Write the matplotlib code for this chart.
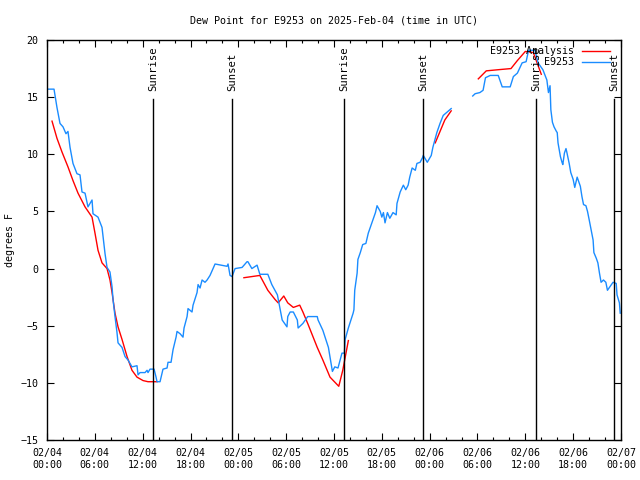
import numpy as np
import matplotlib
matplotlib.use("Agg")
import matplotlib.pyplot as plt
from matplotlib.lines import Line2D

# hours since 2025-02-04 00:00 UTC
obs_hours = [0.0, 0.88, 1.25, 1.63, 2.01, 2.38, 2.63, 2.89, 3.26, 3.76, 4.14, 4.39, 4.77, 5.14,
             5.65, 5.77, 6.40, 6.90, 7.28, 7.53, 7.90, 8.16, 8.28, 8.53, 8.78, 8.91, 9.41, 9.79,
             10.16, 10.66, 11.29, 11.42, 11.67, 12.30, 12.55, 12.67, 12.92, 13.43, 13.68, 13.80,
             14.18, 14.55, 15.06, 15.18, 15.56, 15.81, 16.19, 16.31, 16.69, 17.06, 17.19, 17.57,
             17.69, 18.19, 18.32, 18.82, 18.95, 19.20, 19.45, 19.82, 20.08, 20.45, 20.83, 21.08,
             22.58, 22.71, 22.96, 23.21, 23.59, 24.47, 25.09, 25.2, 25.7, 26.35, 26.7, 27.7,
             28.2, 28.9, 29.5, 30.1, 30.2, 30.5, 30.9, 31.4, 31.5, 32.1, 32.7, 33.9, 34.0, 34.6,
             35.3, 35.8, 36.1, 36.5, 37.0, 37.3, 37.4, 37.8, 38.4, 38.5, 38.6, 38.9, 39.0, 39.3,
             39.6, 40.0, 40.3, 40.8, 41.2, 41.4, 41.8, 42.0, 42.2, 42.4, 42.7, 43.0, 43.4, 43.8,
             43.9, 44.3, 44.7, 45.0, 45.3, 45.5, 45.8, 46.2, 46.4, 46.8, 47.1, 47.2, 47.7, 48.2,
             48.4, 48.9, 49.3, 49.7, 50.2, 50.7, 52.0,
             53.4, 53.7, 54.3, 54.7, 55.0, 55.6, 56.6, 57.1, 58.1, 58.5, 59.0, 59.6, 60.1, 60.4,
             61.2, 61.6, 62.2, 62.7, 62.9, 63.1, 63.2, 63.4, 63.6, 63.9, 64.0, 64.1, 64.4, 64.6,
             64.7, 64.9, 65.1, 65.2, 65.5, 65.7, 66.0, 66.2, 66.5, 66.6, 66.9, 67.1, 67.3, 67.6,
             67.8, 68.0, 68.3, 68.5, 68.6, 68.9, 69.1, 69.3, 69.5, 69.8, 70.1, 70.3, 70.6, 71.0,
             71.4, 71.5, 71.8, 71.9]
obs_dewpt = [15.7, 15.7, 14.1, 12.7, 12.4, 11.8, 12.0, 10.6, 9.2, 8.3, 8.2, 6.7, 6.6, 5.4,
             6.0, 4.8, 4.5, 3.6, 1.3, 0.1, -0.3, -1.6, -2.7, -4.2, -5.6, -6.5, -6.9, -7.7,
             -8.0, -8.6, -8.5, -9.3, -9.1, -9.1, -8.9, -9.1, -8.8, -8.8, -9.5, -9.9,
             -9.9, -8.8, -8.7, -8.2, -8.2, -7.1, -6.0, -5.5, -5.7, -6.0, -5.2, -4.2,
             -3.5, -3.8, -3.2, -2.1, -1.4, -1.7, -1.0, -1.2, -1.0, -0.6, 0.0, 0.4,
             0.2, 0.4, -0.6, -0.7, 0.0, 0.1, 0.6, 0.6, 0.0, 0.3, -0.5, -0.5,
             -1.4, -2.3, -4.5, -5.1, -4.2, -3.8, -3.8, -4.5, -5.2, -4.8, -4.2, -4.2, -4.5, -5.4,
             -6.9, -9.0, -8.6, -8.7, -7.4, -7.4, -6.2, -5.2, -3.9, -3.6, -1.9, -0.4, 0.8, 1.4,
             2.1, 2.2, 3.1, 4.1, 4.9, 5.5, 5.0, 4.5, 4.9, 4.0, 4.9, 4.4, 4.9, 4.7,
             5.7, 6.7, 7.3, 6.9, 7.3, 8.0, 8.8, 8.6, 9.2, 9.3, 9.7, 9.9, 9.3, 9.9,
             10.6, 11.9, 12.7, 13.4, 13.7, 14.0, None,
             15.1, 15.3, 15.4, 15.6, 16.7, 16.9, 16.9, 15.9, 15.9, 16.8, 17.1, 18.0, 18.1, 19.1,
             19.1, 18.0, 17.4, 16.5, 15.4, 16.0, 13.9, 12.8, 12.4, 12.0, 11.9, 11.0, 9.8, 9.3,
             9.1, 10.1, 10.5, 10.2, 9.2, 8.4, 7.8, 7.1, 8.0, 7.8, 7.2, 6.3, 5.6, 5.5,
             5.0, 4.3, 3.2, 2.5, 1.4, 0.9, 0.5, -0.4, -1.2, -1.0, -1.2, -1.9, -1.6, -1.2,
             -1.3, -2.3, -3.0, -3.9]

ana_hours = [0.63, 1.25, 1.88, 2.63, 3.26, 3.89, 4.77, 5.65, 6.02, 6.40, 6.90, 7.53, 7.90,
             8.16, 8.53, 8.91, 9.41, 10.04, 10.66, 11.29, 12.05, 12.67, 13.80, 19.0,
             24.7, 26.7, 27.7, 28.6, 29.0, 29.7, 30.2, 30.9, 31.7, 32.1, 32.7, 33.9, 34.6,
             35.5, 36.6, 37.1, 37.8, 43.0,
             48.7, 49.3, 49.9, 50.7, 52.0,
             54.1, 55.1, 56.6, 58.2, 59.0, 60.0, 61.0, 62.0]
ana_dewpt = [12.9, 11.4, 10.2, 8.9, 7.7, 6.6, 5.4, 4.5, 3.1, 1.6, 0.5, 0.0, -1.0,
             -2.1, -3.9, -5.1, -6.2, -7.7, -8.9, -9.5, -9.8, -9.9, -9.9, None,
             -0.8, -0.6, -1.9, -2.7, -3.0, -2.4, -3.0, -3.4, -3.2, -3.8, -4.8, -6.9, -8.0,
             -9.5, -10.3, -8.9, -6.3, None,
             11.0, 12.0, 13.0, 13.8, None,
             16.6, 17.3, 17.4, 17.5, 18.2, 19.0, 18.9, 17.0]

sun_hours = [13.3, 23.2, 37.3, 47.2, 61.4, 71.15]
sun_labels = ["Sunrise", "Sunset", "Sunrise", "Sunset", "Sunrise", "Sunset"]

tick_hours = [0, 6, 12, 18, 24, 30, 36, 42, 48, 54, 60, 66, 72]
tick_labels = ["02/04\n00:00", "02/04\n06:00", "02/04\n12:00", "02/04\n18:00",
               "02/05\n00:00", "02/05\n06:00", "02/05\n12:00", "02/05\n18:00",
               "02/06\n00:00", "02/06\n06:00", "02/06\n12:00", "02/06\n18:00",
               "02/07\n00:00"]

RED = "#ff0000"
BLUE = "#1a8cff"
FS = 7.2

plt.rcParams["font.family"] = ["DejaVu Sans Mono"]
plt.rcParams["font.size"] = FS

fig = plt.figure(figsize=(6.4, 4.8), dpi=100)
ax = fig.add_axes([47 / 640, 40 / 480, 574 / 640, 400 / 480])

ax.plot(np.array(ana_hours, dtype=float), np.array(ana_dewpt, dtype=float),
        color=RED, lw=1.0)
ax.plot(np.array(obs_hours, dtype=float), np.array(obs_dewpt, dtype=float),
        color=BLUE, lw=1.0)

for h, lab in zip(sun_hours, sun_labels):
    ax.plot([h, h], [-15, 14.8], color="black", lw=1.0)
    ax.text(h, 15.5, lab, rotation=90, ha="center", va="bottom", fontsize=7.6)

ax.set_xlim(0, 72)
ax.set_ylim(-15, 20)
ax.set_xticks(tick_hours)
ax.set_xticklabels(tick_labels)
ax.set_xticks(np.arange(0, 73, 2), minor=True)
ax.set_yticks(range(-15, 21, 5))
ax.tick_params(which="both", direction="in", top=True, right=True, color="black")
ax.tick_params(which="major", length=5, width=0.8, pad=6)
ax.tick_params(which="minor", length=2.5, width=0.8)
for s in ax.spines.values():
    s.set_linewidth(1.0)

ax.set_title("Dew Point for E9253 on 2025-Feb-04 (time in UTC)", pad=12, fontsize=FS)
ax.set_ylabel("degrees F", labelpad=4, fontsize=FS)

# gnuplot style key: right-justified text, sample on the right
tr = fig.transFigure
for i, (lab, col) in enumerate([("E9253 Analysis", RED), ("E9253", BLUE)]):
    y = 1 - (50.5 + 11.5 * i) / 480
    fig.text(574 / 640, y, lab, ha="right", va="center")
    fig.add_artist(Line2D([582 / 640, 610 / 640], [y, y], transform=tr, color=col, lw=1.0))

fig.savefig("out.png", dpi=100)
